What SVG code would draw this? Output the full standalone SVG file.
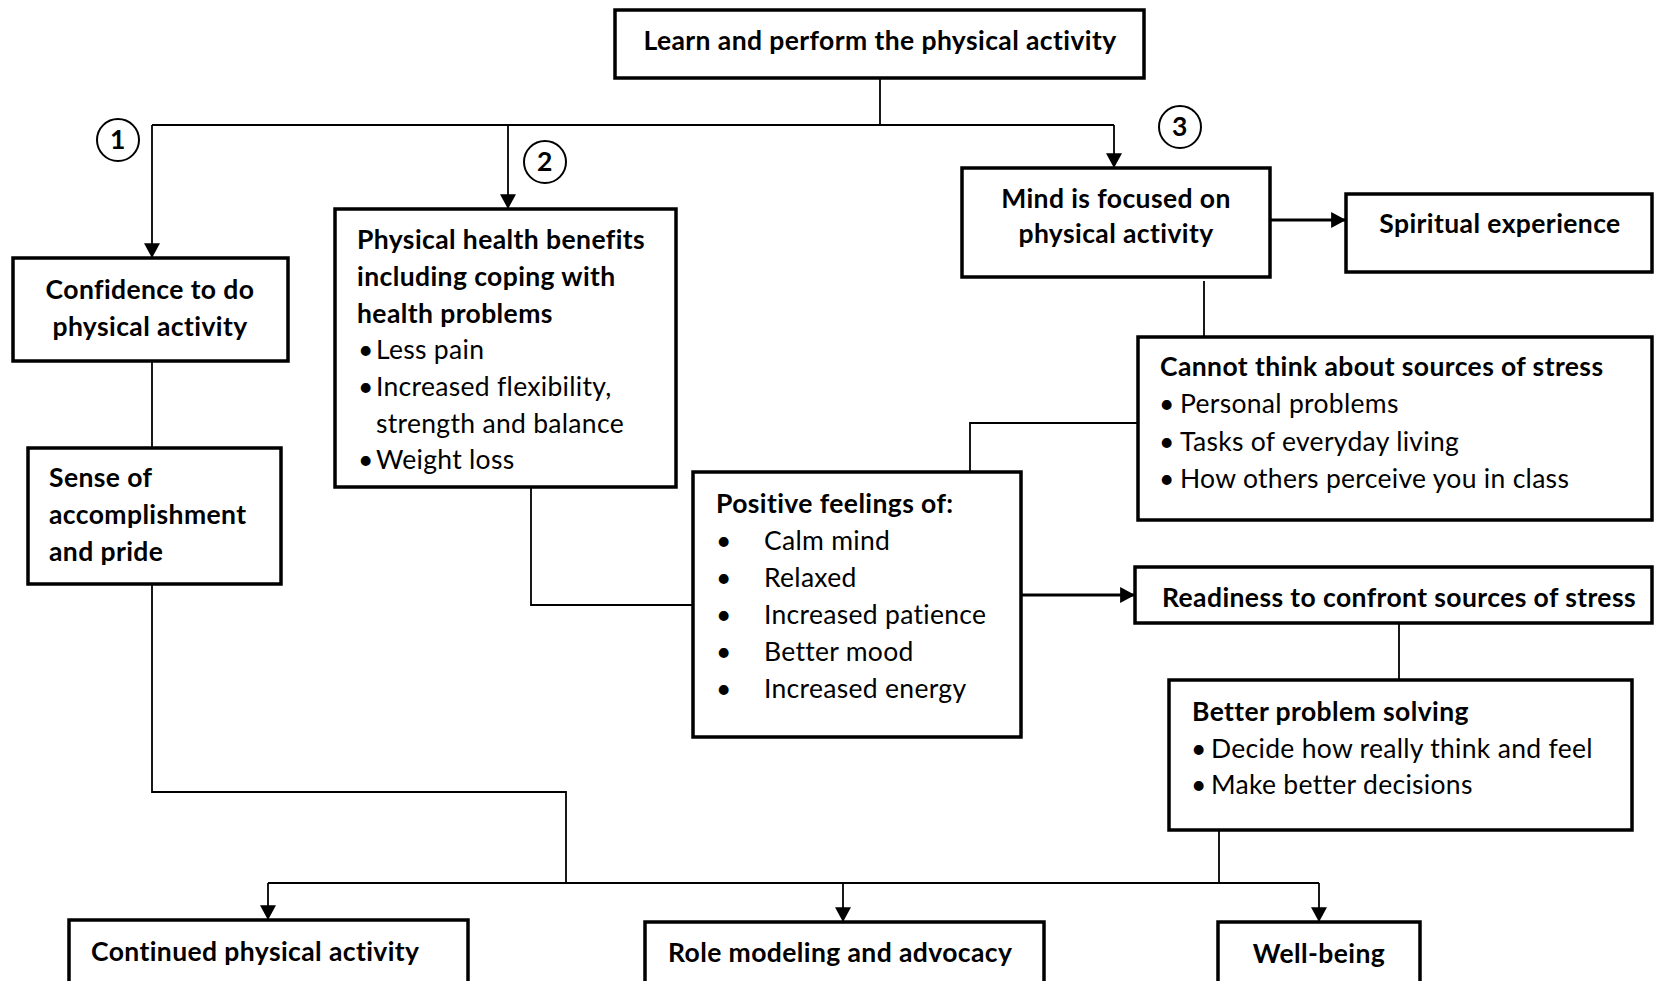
<svg xmlns="http://www.w3.org/2000/svg" width="1654" height="981" viewBox="0 0 1654 981">
<style>
.box{fill:#fff;stroke:#000;stroke-width:3.5}
.ln{fill:none;stroke:#000;stroke-width:1.8}
.thk{fill:none;stroke:#000;stroke-width:2.8}
.b{font-family:Lato,"Liberation Sans",sans-serif;font-weight:700;font-size:26.5px;letter-spacing:0.4px;fill:#000}
.r{font-family:Lato,"Liberation Sans",sans-serif;font-weight:400;font-size:26.5px;letter-spacing:0.3px;fill:#000}
.c{text-anchor:middle}
.num{fill:#fff;stroke:#000;stroke-width:2}
</style>
<defs>
<marker id="ah" markerUnits="userSpaceOnUse" markerWidth="16" markerHeight="16" viewBox="0 0 14 14" refX="13" refY="7" orient="auto">
<path d="M0,0 L13,7 L0,14 Z" fill="#000"/>
</marker>
</defs>
<rect width="1654" height="981" fill="#fff"/>
<g id="connectors">
<path class="ln" d="M880,78 V125"/>
<path class="ln" d="M152,125 H1114"/>
<path class="ln" d="M152,125 V258" marker-end="url(#ah)"/>
<path class="ln" d="M508,125 V209" marker-end="url(#ah)"/>
<path class="ln" d="M1114,125 V168" marker-end="url(#ah)"/>
<path class="thk" d="M1270,220 H1346" marker-end="url(#ah)"/>
<path class="ln" d="M1204,281 V337"/>
<path class="ln" d="M1138,423 H970 V472"/>
<path class="ln" d="M152,361 V448"/>
<path class="ln" d="M531,487 V605 H693"/>
<path class="thk" d="M1021,595 H1135" marker-end="url(#ah)"/>
<path class="ln" d="M1399,623 V680"/>
<path class="ln" d="M152,584 V792 H566 V883"/>
<path class="ln" d="M1219,830 V883"/>
<path class="ln" d="M268,883 H1319"/>
<path class="ln" d="M268,883 V920" marker-end="url(#ah)"/>
<path class="ln" d="M843,883 V922" marker-end="url(#ah)"/>
<path class="ln" d="M1319,883 V922" marker-end="url(#ah)"/>
</g>
<g id="label1"><circle class="num" cx="118" cy="140" r="21"/><text class="b c" x="118" y="149">1</text></g>
<g id="label2"><circle class="num" cx="545" cy="162" r="21"/><text class="b c" x="545" y="171">2</text></g>
<g id="label3"><circle class="num" cx="1180" cy="127" r="21"/><text class="b c" x="1180" y="136">3</text></g>
<g id="learn">
<rect class="box" x="615" y="10" width="529" height="68"/>
<text class="b c" x="880" y="50">Learn and perform the physical activity</text>
</g>
<g id="confidence">
<rect class="box" x="13" y="258" width="275" height="103"/>
<text class="b c" x="150" y="299">Confidence to do</text>
<text class="b c" x="150" y="336">physical activity</text>
</g>
<g id="physical">
<rect class="box" x="335" y="209" width="341" height="278"/>
<text class="b" x="357" y="249">Physical health benefits</text>
<text class="b" x="357" y="286">including coping with</text>
<text class="b" x="357" y="323">health problems</text>
<text class="r" x="358" y="359">•</text><text class="r" x="376" y="359">Less pain</text>
<text class="r" x="358" y="396">•</text><text class="r" x="376" y="396">Increased flexibility,</text>
<text class="r" x="376" y="433">strength and balance</text>
<text class="r" x="358" y="469">•</text><text class="r" x="376" y="469">Weight loss</text>
</g>
<g id="sense">
<rect class="box" x="28" y="448" width="253" height="136"/>
<text class="b" x="49" y="487">Sense of</text>
<text class="b" x="49" y="524">accomplishment</text>
<text class="b" x="49" y="561">and pride</text>
</g>
<g id="mind">
<rect class="box" x="962" y="168" width="308" height="109"/>
<text class="b c" x="1116" y="208">Mind is focused on</text>
<text class="b c" x="1116" y="243">physical activity</text>
</g>
<g id="spiritual">
<rect class="box" x="1346" y="194" width="306" height="78"/>
<text class="b c" x="1500" y="233">Spiritual experience</text>
</g>
<g id="cannot">
<rect class="box" x="1138" y="337" width="514" height="183"/>
<text class="b" x="1160" y="376">Cannot think about sources of stress</text>
<text class="r" x="1159" y="413">•</text><text class="r" x="1180" y="413">Personal problems</text>
<text class="r" x="1159" y="451">•</text><text class="r" x="1180" y="451">Tasks of everyday living</text>
<text class="r" x="1159" y="488">•</text><text class="r" x="1180" y="488">How others perceive you in class</text>
</g>
<g id="positive">
<rect class="box" x="693" y="472" width="328" height="265"/>
<text class="b" x="716" y="513">Positive feelings of:</text>
<text class="r" x="716" y="550">•</text><text class="r" x="764" y="550">Calm mind</text>
<text class="r" x="716" y="587">•</text><text class="r" x="764" y="587">Relaxed</text>
<text class="r" x="716" y="624">•</text><text class="r" x="764" y="624">Increased patience</text>
<text class="r" x="716" y="661">•</text><text class="r" x="764" y="661">Better mood</text>
<text class="r" x="716" y="698">•</text><text class="r" x="764" y="698">Increased energy</text>
</g>
<g id="readiness">
<rect class="box" x="1135" y="567" width="517" height="56"/>
<text class="b" x="1162" y="607">Readiness to confront sources of stress</text>
</g>
<g id="better">
<rect class="box" x="1169" y="680" width="463" height="150"/>
<text class="b" x="1192" y="721">Better problem solving</text>
<text class="r" x="1191" y="758">•</text><text class="r" x="1211" y="758">Decide how really think and feel</text>
<text class="r" x="1191" y="794">•</text><text class="r" x="1211" y="794">Make better decisions</text>
</g>
<g id="continued">
<rect class="box" x="69" y="920" width="399" height="80"/>
<text class="b" x="91" y="961">Continued physical activity</text>
</g>
<g id="role">
<rect class="box" x="645" y="922" width="399" height="80"/>
<text class="b" x="668" y="962">Role modeling and advocacy</text>
</g>
<g id="wellbeing">
<rect class="box" x="1218" y="922" width="202" height="80"/>
<text class="b c" x="1319" y="963">Well-being</text>
</g>
</svg>
